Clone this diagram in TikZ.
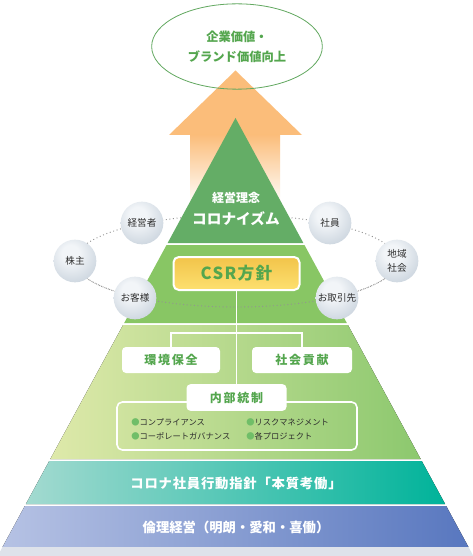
\documentclass[tikz,border=0pt]{standalone}
\usepackage{fontspec}
\setmainfont{Noto Sans CJK JP}
\usetikzlibrary{positioning,calc,shapes}
\definecolor{arroworange}{RGB}{251,189,122}
\definecolor{ringgreen}{RGB}{98,168,96}
\definecolor{textgreen}{RGB}{84,166,78}
\definecolor{tiertop}{RGB}{100,173,102}
\definecolor{tiercsr}{RGB}{136,198,100}
\definecolor{tiermidL}{RGB}{222,233,170}
\definecolor{tiermidR}{RGB}{140,200,110}
\definecolor{tealL}{RGB}{163,218,208}
\definecolor{tealR}{RGB}{0,179,154}
\definecolor{blueL}{RGB}{182,194,228}
\definecolor{blueR}{RGB}{88,119,191}
\definecolor{shadowgray}{RGB}{222,226,234}
\definecolor{ballhi}{RGB}{242,245,248}
\definecolor{ballmid}{RGB}{206,215,224}
\definecolor{ballrim}{RGB}{160,173,189}
\definecolor{csryellow}{RGB}{253,224,112}
\definecolor{csrgold}{RGB}{242,196,74}
\definecolor{bulletgreen}{RGB}{112,190,104}
\definecolor{darktext}{RGB}{45,45,45}
\pgfdeclareradialshading{silverball}{\pgfpoint{-6bp}{10bp}}{color(0bp)=(ballhi); color(10bp)=(ballhi); color(32bp)=(ballmid); color(50bp)=(ballmid!65!ballrim); color(60bp)=(ballrim); color(80bp)=(ballrim)}

\begin{document}
\begin{tikzpicture}[x=0.75pt,y=-0.75pt,
    tiera/.style={fill=tiertop},
    tierb/.style={fill=tiercsr},
    tierc/.style={left color=tiermidL,right color=tiermidR},
    tierd/.style={left color=tealL,right color=tealR},
    tiere/.style={left color=blueL,right color=blueR},
    tierf/.style={fill=shadowgray},
    ball/.style={circle,shading=silverball,minimum size=32pt,inner sep=0pt,
      font=\fontsize{7.2}{11}\selectfont,text=darktext,align=center},
    ring/.style={gray!85,dotted,line width=0.7pt},
    whitebox/.style={rounded corners=3pt,fill=white,text=textgreen,minimum height=19.5pt,
      font=\fontsize{9}{10}\selectfont\bfseries\addfontfeature{LetterSpace=14}},
    wline/.style={white,line width=1.2pt},
    bullet/.style={text=darktext,inner sep=0pt,font=\fontsize{6.2}{7}\selectfont},
    bandtext/.style={text=white,font=\fontsize{10}{11}\selectfont\bfseries}]
    \useasboundingbox (0,0) rectangle (472,556);
    \fill[white] (0,0) rectangle (472,556);
    % arrow behind the pyramid
    \fill[arroworange] (235.5,70.5) -- (302,135) -- (169,135) -- cycle;
    \fill[top color=arroworange,bottom color=white] (190,134.5) rectangle (280,205);
    % stakeholder ring, back part
    \coordinate (ring) at (236,261);
    \draw[ring] (ring) ellipse[x radius=120.75pt,y radius=34.5pt];
    % pyramid
    \foreach \t/\b/\c in {118/243/tiera,245/323/tierb,325/459/tierc,461/504/tierd,506/547/tiere,547/556/tierf}
      \fill[\c] ({235.5-(\t-118)*0.543},\t) -- ({235.5+(\t-118)*0.543},\t) -- ({235.5+(\b-118)*0.543},\b) -- ({235.5-(\b-118)*0.543},\b) -- cycle;
    % ring, front part
    \draw[ring] ([xshift=-120.75pt]ring) arc[start angle=180,end angle=360,x radius=120.75pt,y radius=34.5pt];
    % goal
    \node[ellipse,draw=ringgreen,line width=0.6pt,minimum width=128pt,minimum height=64pt,align=center,
      text=textgreen,font=\fontsize{9.2}{15}\selectfont\bfseries] (goal) at (237,46.5) {企業価値・\\ブランド価値向上};
    \node[text=white,font=\fontsize{9}{10}\selectfont\bfseries] (rinen) at (236,198) {経営理念};
    \node[text=white,font=\fontsize{11}{12}\selectfont\bfseries] (coronism) at (236,219) {コロナイズム};
    % CSR
    \node[draw=white,line width=1.5pt,rounded corners=4pt,top color=csrgold,bottom color=csryellow,
      minimum width=94.5pt,minimum height=24.75pt,text=textgreen,
      font=\fontsize{12.5}{14}\selectfont\bfseries\addfontfeature{LetterSpace=8}] (csr) at (236.5,273.5) {CSR方針};
    \draw[wline,rounded corners=4pt] (117,402) rectangle (357,450);
    \node[whitebox,minimum width=73.5pt] (kankyo) at (171,360) {環境保全};
    \node[whitebox,minimum width=75pt] (shakai) at (302,360) {社会貢献};
    \node[whitebox,minimum width=75pt,minimum height=20pt] (naibu) at (236.5,397.5) {内部統制};
    \coordinate (fork) at (236.5,333);
    \draw[wline] (csr.south) -- (naibu.north);
    \draw[wline] (kankyo.north) |- (fork) -| (shakai.north);
    \foreach \n/\x/\y/\t in {comp/131/422/コンプライアンス,corp/131/436/コーポレートガバナンス,risk/246/422/リスクマネジメント,proj/246/436/各プロジェクト}
      \node[bullet,anchor=west] (\n) at (\x,\y) {{\color{bulletgreen}●}\t};
    % bands
    \node[bandtext,font=\fontsize{10}{11}\selectfont\bfseries\addfontfeature{LetterSpace=6}] (kodo) at (236,483) {コロナ社員行動指針「本質考働」};
    \node[bandtext] (rinri) at (236,527) {倫理経営（明朗・愛和・喜働）};
    % stakeholders
    \foreach \n/\x/\y/\t in {kabu/75/261/株主,keiei/142/223/経営者,kyaku/135/298/お客様,shain/330/223/社員,chiiki/397/261/{地域\\社会},torihiki/337/298/お取引先}
      \node[ball] (\n) at (\x,\y) {\t};
\end{tikzpicture}
\end{document}
